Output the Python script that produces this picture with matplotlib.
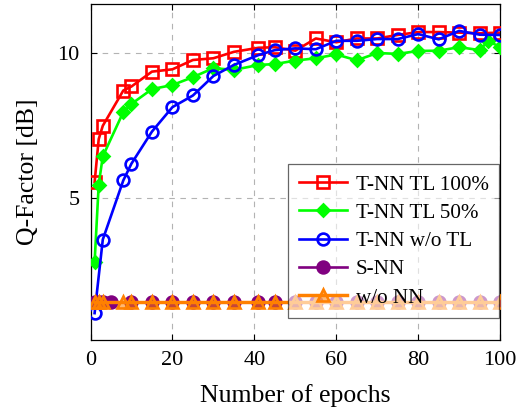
import matplotlib
matplotlib.use("Agg")
import matplotlib.pyplot as plt

plt.rcParams['font.family'] = ['Liberation Serif', 'DejaVu Serif']
plt.rcParams['mathtext.fontset'] = 'stix'

epochs = [1, 2, 3, 8, 10, 15, 20, 25, 30, 35, 41, 45, 50, 55, 60, 65, 70, 75, 80, 85, 90, 95, 100]
tl100 = [5.56, 7.04, 7.5, 8.71, 8.85, 9.36, 9.44, 9.76, 9.82, 10.04, 10.18, 10.2, 10.08,
         10.5, 10.37, 10.5, 10.5, 10.62, 10.72, 10.72, 10.7, 10.68, 10.7]
epochs_tl50 = [1, 2, 3, 8, 10, 15, 20, 25, 30, 35, 41, 45, 50, 55, 60, 65, 70, 75, 80, 85, 90, 95, 97, 100]
tl50 = [2.82, 5.48, 6.45, 7.97, 8.25, 8.76, 8.9, 9.17, 9.48, 9.42, 9.59, 9.62, 9.74,
        9.82, 9.95, 9.75, 10.0, 9.97, 10.07, 10.08, 10.2, 10.1, 10.4, 10.22]
epochs_wotl = [1, 3, 8, 10, 15, 20, 25, 30, 35, 41, 45, 50, 55, 60, 65, 70, 75, 80, 85, 90, 95, 100]
wotl = [1.06, 3.59, 5.62, 6.2, 7.3, 8.14, 8.54, 9.21, 9.59, 9.93, 10.1, 10.16,
        10.13, 10.42, 10.42, 10.48, 10.48, 10.65, 10.47, 10.76, 10.63, 10.62]
epochs_snn = [1, 2, 3, 5, 10, 15, 20, 25, 30, 35, 41, 45, 50, 55, 60, 65, 70, 75, 80, 85, 90, 95, 100]
snn = [1.43] * len(epochs_snn)
wonn = [1.43] * len(epochs)

fig = plt.figure(figsize=(5.22, 4.13), dpi=100)
ax = fig.add_axes([0.1734, 0.177, 0.7847, 0.813])

lw = 1.9
ms = 8.5
mew = 1.9
ax.plot(epochs, tl100, color=(1, 0, 0), lw=lw, marker='s', ms=ms, mfc='none', mew=mew,
        label='T-NN TL 100%', zorder=3)
ax.plot(epochs_tl50, tl50, color=(0, 1, 0), lw=lw, marker='D', ms=6.5, mfc=(0, 1, 0), mew=mew,
        label='T-NN TL 50%', zorder=3)
ax.plot(epochs_wotl, wotl, color=(0, 0, 1), lw=lw, marker='o', ms=ms, mfc='none', mew=mew,
        label='T-NN w/o TL', zorder=3)
ax.plot(epochs_snn, snn, color=(0.5, 0, 0.5), lw=lw, marker='o', ms=ms, mfc=(0.5, 0, 0.5), mew=mew,
        label='S-NN', zorder=3)
ax.plot(epochs, wonn, color=(1, 0.5, 0), lw=lw * 1.3, marker='^', ms=ms, mfc=(1, 0.5, 0, 0.55), mec=(1, 0.5, 0), mew=mew,
        label='w/o NN', zorder=3)

ax.set_xlim(0, 100)
ax.set_ylim(0.14, 11.68)
ax.set_xticks([0, 20, 40, 60, 80, 100])
ax.set_yticks([5, 10])
ax.tick_params(direction='in', top=True, right=True, labelsize=16, length=4, width=0.8, pad=8)
ax.grid(True, color=(0.7, 0.7, 0.7), linestyle=(0, (5, 5)), linewidth=0.8)
ax.set_axisbelow(True)
for s in ax.spines.values():
    s.set_linewidth(0.9)
ax.set_xlabel('Number of epochs', fontsize=18.5, labelpad=10)
ax.set_ylabel('Q-Factor [dB]', fontsize=18.5, labelpad=13)

leg = ax.legend(loc='lower right', bbox_to_anchor=(0.998, 0.065), borderaxespad=0,
                fontsize=15.2, frameon=True, fancybox=False, edgecolor='black', framealpha=0.6,
                handlelength=2.3, handletextpad=0.4, labelspacing=0.4, borderpad=0.5)
leg.get_frame().set_linewidth(0.9)

fig.savefig('out.png', dpi=100)
